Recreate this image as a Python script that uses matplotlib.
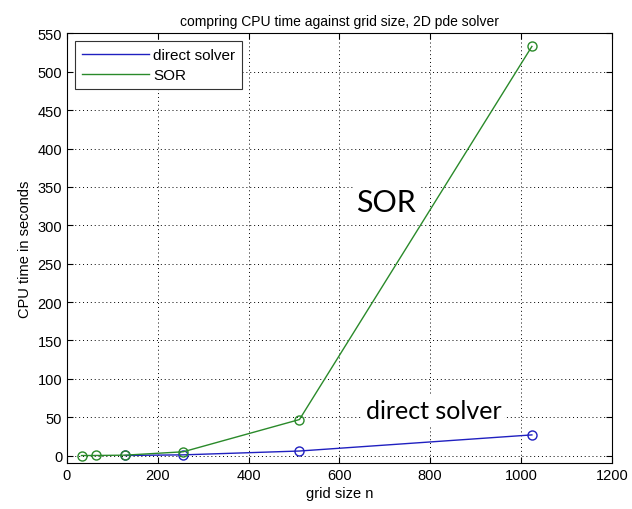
import matplotlib
matplotlib.use("Agg")
import matplotlib.pyplot as plt

# grid sizes and CPU times
direct_n = [128, 256, 512, 1024]
direct_t = [0.2, 1.0, 6.0, 27.0]
sor_n = [32, 64, 128, 256, 512, 1024]
sor_t = [0.1, 0.2, 0.6, 5.0, 47.0, 533.0]

plt.rcParams["font.family"] = ["Liberation Sans", "DejaVu Sans"]
plt.rcParams["font.size"] = 10

fig = plt.figure(figsize=(6.32, 5.10), dpi=100)
ax = fig.add_axes([0.106, 0.0896, 0.862, 0.843])

ax.plot(direct_n, direct_t, color="#2020c0", lw=1, marker="o", mfc="none",
        ms=6.5, mew=1, label="direct solver")
ax.plot(sor_n, sor_t, color="#2a8a2a", lw=1, marker="o", mfc="none",
        ms=6.5, mew=1, label="SOR")

ax.set_xlim(0, 1200)
ax.set_ylim(-10, 550)
ax.set_xticks(range(0, 1201, 200))
ax.set_yticks(range(0, 551, 50))
ax.grid(True, color="black", linestyle=(0, (1, 3)), lw=0.7)
ax.tick_params(direction="in", top=True, right=True, length=4, labelsize=10.5)
for s in ax.spines.values():
    s.set_linewidth(0.8)

ax.set_title("compring CPU time against grid size, 2D pde solver", fontsize=10)
ax.set_xlabel("grid size n", fontsize=10.5, labelpad=3)
ax.set_ylabel("CPU time in seconds", fontsize=10.5, labelpad=4)

leg = ax.legend(loc="upper left", fancybox=False, framealpha=1, fontsize=11,
                edgecolor="#333333", handlelength=4.4, handletextpad=0.3,
                borderaxespad=0.5, borderpad=0.45, labelspacing=0.4)
leg.get_frame().set_linewidth(0.8)
for h in leg.legend_handles:
    h.set_marker("")

ax.text(703, 331, "SOR", fontsize=22, family="Lato", ha="center",
        va="center", bbox=dict(fc="white", ec="none", pad=2))
ax.text(808, 59, "direct solver", fontsize=18, family="Lato",
        ha="center", va="center", bbox=dict(fc="white", ec="none", pad=2))

fig.savefig("out.png", dpi=100)
